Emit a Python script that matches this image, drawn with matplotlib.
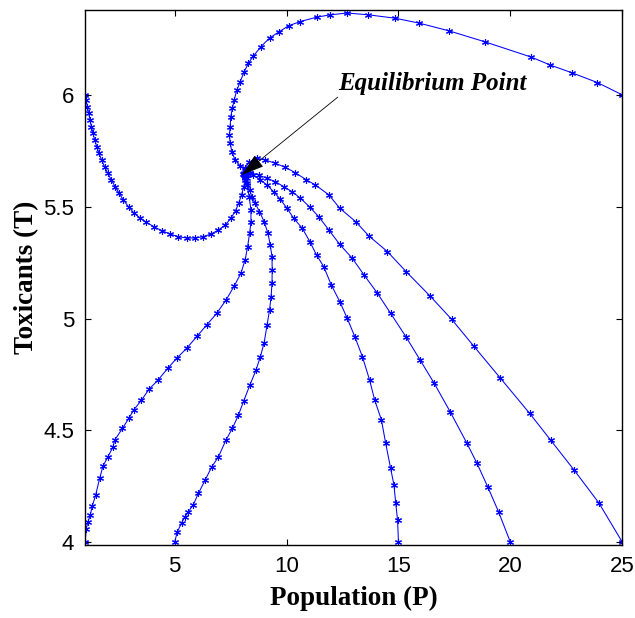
import matplotlib
matplotlib.use('Agg')
import matplotlib.pyplot as plt

# trajectories of the P-T system, one pair of lists per starting point
P_a = [25.0, 23.89, 22.77, 21.79, 20.93, 18.87, 17.27, 15.92, 14.84, 13.65, 12.71, 11.96, 11.37,
       10.62, 10.09, 9.65, 9.24, 8.86, 8.52, 8.30, 8.11, 7.93, 7.78, 7.66, 7.58, 7.51, 7.48,
       7.45, 7.48, 7.56, 7.70, 7.93, 8.20, 8.38, 8.25, 8.12]
T_a = [6.0, 6.055, 6.098, 6.133, 6.169, 6.237, 6.286, 6.321, 6.343, 6.358, 6.366, 6.358, 6.348,
       6.328, 6.309, 6.281, 6.254, 6.216, 6.174, 6.142, 6.104, 6.059, 6.022, 5.977, 5.940, 5.903, 5.858,
       5.821, 5.784, 5.746, 5.709, 5.682, 5.660, 5.651, 5.630, 5.640]

P_b = [1.0, 1.05, 1.10, 1.16, 1.22, 1.28, 1.35, 1.43, 1.52, 1.62, 1.74, 1.87, 2.01, 2.17, 2.34,
       2.52, 2.71, 2.94, 3.17, 3.44, 3.74, 4.07, 4.42, 4.79, 5.16, 5.54, 5.91, 6.28, 6.63, 6.96,
       7.26, 7.51, 7.72, 7.87, 7.99, 8.08, 8.14, 8.15, 8.10]
T_b = [6.0, 5.975, 5.948, 5.918, 5.888, 5.858, 5.829, 5.799, 5.769, 5.739, 5.709, 5.679, 5.650, 5.620, 5.590,
       5.560, 5.530, 5.500, 5.473, 5.451, 5.430, 5.411, 5.393, 5.378, 5.366, 5.360, 5.360, 5.366, 5.378, 5.396,
       5.418, 5.448, 5.482, 5.518, 5.553, 5.587, 5.620, 5.642, 5.650]

P_c = [1.0, 1.05, 1.13, 1.23, 1.32, 1.47, 1.65, 1.80, 2.02, 2.25, 2.32, 2.67, 2.95, 3.17, 3.52,
       3.85, 4.26, 4.69, 5.09, 5.54, 6.01, 6.43, 6.88, 7.30, 7.66, 7.96, 8.15, 8.26, 8.35, 8.41,
       8.41, 8.33, 8.24, 8.15, 8.08]
T_c = [4.0, 4.061, 4.091, 4.121, 4.161, 4.210, 4.285, 4.340, 4.382, 4.426, 4.456, 4.509, 4.553, 4.591, 4.635,
       4.683, 4.725, 4.777, 4.822, 4.867, 4.922, 4.971, 5.023, 5.083, 5.145, 5.202, 5.262, 5.321, 5.381, 5.433,
       5.485, 5.544, 5.597, 5.633, 5.645]

P_d = [5.0, 5.12, 5.31, 5.46, 5.61, 5.83, 6.06, 6.36, 6.66, 6.96, 7.29, 7.58, 7.85, 8.08, 8.36,
       8.63, 8.83, 9.00, 9.13, 9.24, 9.31, 9.35, 9.36, 9.35, 9.27, 9.17, 9.00, 8.79, 8.60, 8.45,
       8.35, 8.23, 8.15, 8.10]
T_d = [4.0, 4.046, 4.086, 4.113, 4.136, 4.166, 4.218, 4.277, 4.337, 4.382, 4.456, 4.509, 4.568, 4.630, 4.702,
       4.768, 4.829, 4.892, 4.971, 5.038, 5.098, 5.158, 5.217, 5.277, 5.329, 5.381, 5.433, 5.478, 5.515, 5.545,
       5.575, 5.605, 5.630, 5.645]

P_e = [15.0, 14.96, 14.88, 14.80, 14.65, 14.43, 14.24, 13.94, 13.71, 13.39, 13.05, 12.71, 12.38, 12.00,
       11.66, 11.34, 11.04, 10.70, 10.32, 10.02, 9.72, 9.42, 9.13, 8.83, 8.52, 8.30, 8.15]
T_e = [4.0, 4.098, 4.173, 4.255, 4.330, 4.442, 4.546, 4.635, 4.725, 4.829, 4.919, 5.001, 5.075, 5.150,
       5.232, 5.284, 5.344, 5.404, 5.448, 5.493, 5.533, 5.567, 5.597, 5.620, 5.642, 5.650, 5.640]

P_f = [20.0, 19.47, 18.99, 18.51, 18.06, 17.31, 16.60, 15.97, 15.33, 14.65, 14.06, 13.46, 12.94, 12.37,
       11.89, 11.44, 11.04, 10.62, 10.25, 9.87, 9.50, 9.13, 8.75, 8.38, 8.18]
T_f = [4.0, 4.136, 4.247, 4.352, 4.442, 4.583, 4.710, 4.814, 4.919, 5.023, 5.113, 5.195, 5.269, 5.332,
       5.396, 5.455, 5.498, 5.538, 5.567, 5.590, 5.612, 5.627, 5.642, 5.651, 5.645]

P_g = [25.0, 23.95, 22.85, 21.80, 20.86, 19.54, 18.36, 17.38, 16.40, 15.35, 14.51, 13.68, 13.09, 12.38,
       11.89, 11.29, 10.89, 10.39, 9.95, 9.50, 9.05, 8.68, 8.33, 8.15, 8.06]
T_g = [4.0, 4.176, 4.322, 4.456, 4.576, 4.735, 4.877, 4.996, 5.102, 5.209, 5.299, 5.369, 5.433, 5.493,
       5.553, 5.597, 5.620, 5.652, 5.676, 5.694, 5.709, 5.716, 5.700, 5.673, 5.646]

trajectories = [(P_a, T_a), (P_b, T_b), (P_c, T_c), (P_d, T_d), (P_e, T_e), (P_f, T_f), (P_g, T_g)]

eq_point = (8.0, 5.642)
label_pos = (12.32, 6.022)
arrow_start = (12.29, 5.99)

x_ticks = [5, 10, 15, 20, 25]
y_ticks = [4, 4.5, 5, 5.5, 6]
y_ticklabels = ['4', '4.5', '5', '5.5', '6']

# 6-spoke asterisk, like the '*' marker of the original tool
star = (6, 2, 0)

fig = plt.figure(figsize=(6.35, 6.18), dpi=100)
ax = fig.add_axes([0.134, 0.118, 0.846, 0.866])

for P, T in trajectories:
    ax.plot(P, T, color='#0000ff', linewidth=0.75, marker=star, markersize=5,
            markeredgewidth=0.8, markeredgecolor='#0000ff')

ax.annotate('', xy=eq_point, xytext=arrow_start,
            arrowprops=dict(arrowstyle='-|>,head_length=0.8,head_width=0.25', mutation_scale=18,
                            color='k', lw=0.6, shrinkA=0, shrinkB=0))
ax.text(label_pos[0], label_pos[1], 'Equilibrium Point', family='Liberation Serif',
        fontweight='bold', fontstyle='italic', fontsize=18, ha='left', va='baseline')

ax.set_xlim(1, 25)
ax.set_ylim(3.987, 6.38)
ax.set_xticks(x_ticks)
ax.set_yticks(y_ticks)
ax.set_yticklabels(y_ticklabels)
ax.tick_params(direction='in', length=4, width=0.8, top=True, right=True,
               labelsize=16, pad=8)
for lab in ax.get_xticklabels() + ax.get_yticklabels():
    lab.set_family('Liberation Sans')
for sp in ax.spines.values():
    sp.set_linewidth(1.0)

ax.set_xlabel('Population (P)', family='Liberation Serif', fontweight='bold', fontsize=19.5, labelpad=6)
ax.set_ylabel('Toxicants (T)', family='Liberation Serif', fontweight='bold', fontsize=19.5, labelpad=3)

fig.savefig('out.png', dpi=100)
